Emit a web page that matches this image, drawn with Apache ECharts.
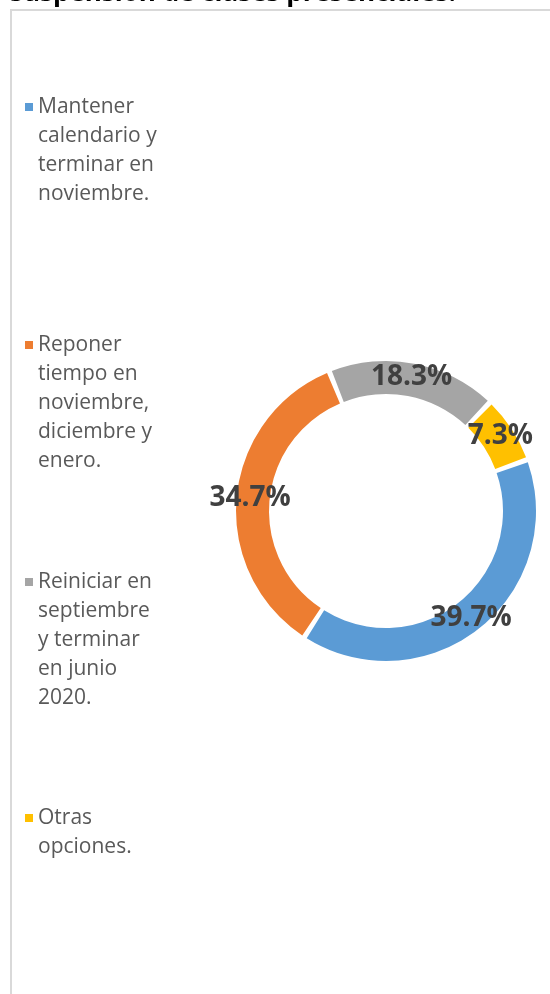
<!DOCTYPE html>
<html>
<head>
<meta charset="utf-8">
<script src="https://cdn.jsdelivr.net/npm/echarts@6/dist/echarts.min.js"></script>
<style>
  html, body { margin: 0; padding: 0; background: #fff; }
  #main { width: 550px; height: 994px; }
</style>
</head>
<body>
<div id="main"></div>
<script type="text/javascript">
// opciones (texto de leyenda con saltos de línea como en el original)
var categories = [
  'Mantener\ncalendario y\nterminar en\nnoviembre.',
  'Reponer\ntiempo en\nnoviembre,\ndiciembre y\nenero.',
  'Reiniciar en\nseptiembre\ny terminar\nen junio\n2020.',
  'Otras\nopciones.'
];
// porcentajes
var values = [39.7, 34.7, 18.3, 7.3];
var colors = ['#5B9BD5', '#ED7D31', '#A5A5A5', '#FFC000'];
var titleText = 'suspensión de clases presenciales.';

var lineH = 29;
// centro vertical del cuadradito de cada leyenda
var legendCenters = [107, 345, 582, 818];

var chart = echarts.init(document.getElementById('main'));

// una leyenda por opción; el icono es alto (cuadrado arriba) para que
// quede a la altura de la primera línea del texto
var legends = categories.map(function (name, i) {
  var n = name.split('\n').length;
  var h = (n - 1) * lineH + 8;
  return {
    orient: 'vertical',
    left: 25,
    top: legendCenters[i] - lineH / 2,
    padding: 0,
    data: [name],
    icon: 'path://M0,0h8v8h-8z M0,' + (h - 0.01) + 'h8v0.01h-8z',
    itemWidth: 8,
    itemHeight: h,
    itemGap: 0,
    selectedMode: false,
    textStyle: {
      fontFamily: 'Open Sans',
      fontSize: 21,
      lineHeight: lineH,
      color: '#595959'
    }
  };
});

var option = {
  color: colors,
  animation: false,
  title: {
    text: titleText,
    left: 10,
    top: -19,
    padding: 0,
    textStyle: {
      fontFamily: 'Open Sans',
      fontSize: 26,
      fontWeight: 'bold',
      color: '#000'
    }
  },
  graphic: [{
    type: 'rect',
    shape: { x: 11, y: 10, width: 700, height: 1200 },
    style: { fill: null, stroke: '#d9d9d9', lineWidth: 2 },
    silent: true
  }],
  legend: legends,
  series: [{
    type: 'pie',
    center: [386, 511],
    radius: [117, 150],
    startAngle: 20,
    clockwise: true,
    padAngle: 2,
    avoidLabelOverlap: false,
    emphasis: { disabled: true },
    label: {
      show: true,
      position: 'inside',
      formatter: '{c}%',
      fontFamily: 'Open Sans',
      fontSize: 28,
      fontWeight: 'bold',
      color: '#404040'
    },
    labelLine: { show: false },
    data: categories.map(function (name, i) {
      return { name: name, value: values[i] };
    })
  }]
};

chart.setOption(option);
</script>
</body>
</html>
